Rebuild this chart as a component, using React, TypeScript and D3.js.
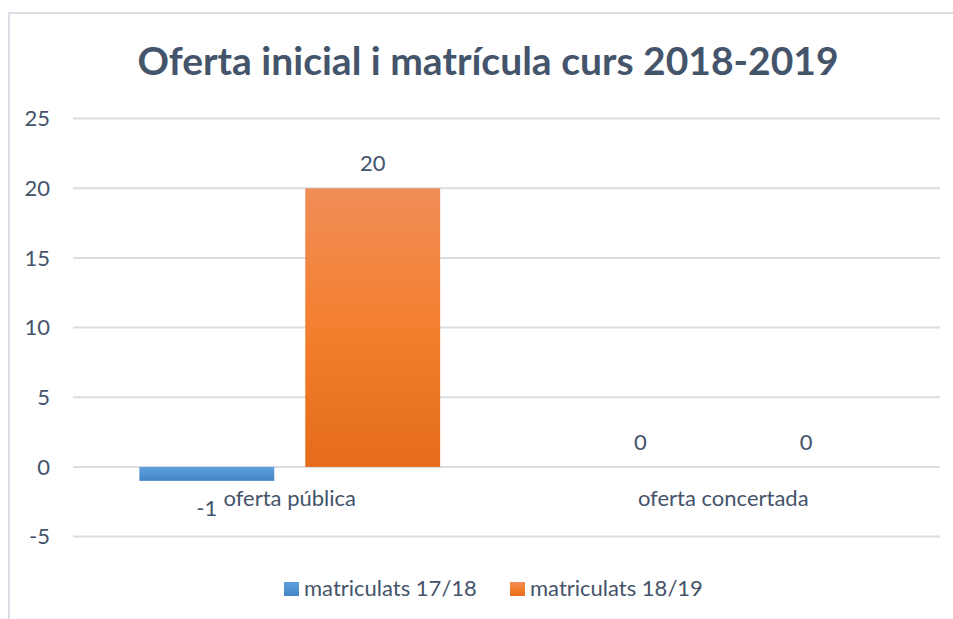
import * as d3 from 'd3';
import React, { useEffect, useRef } from 'react';

const categories = ['oferta pública', 'oferta concertada'];
const seriesNames = ['matriculats 17/18', 'matriculats 18/19'];
const values1718 = [-1, 0];
const values1819 = [20, 0];
const yTicks = [-5, 0, 5, 10, 15, 20, 25];

const W = 953;
const H = 619;
const FONT = "Lato, 'Open Sans', sans-serif";
const TEXT = '#44546A';
const GRID = '#D9DEE5';

const App = () => {
  const ref = useRef<SVGSVGElement | null>(null);

  useEffect(() => {
    if (!ref.current) return;
    const svg = d3.select(ref.current);
    svg.selectAll('*').remove();

    const defs = svg.append('defs');
    const blue = defs.append('linearGradient').attr('id', 'gBlue').attr('x1', 0).attr('y1', 0).attr('x2', 0).attr('y2', 1);
    blue.append('stop').attr('offset', '0%').attr('stop-color', '#5EA0DD');
    blue.append('stop').attr('offset', '100%').attr('stop-color', '#4585C7');
    const orange = defs.append('linearGradient').attr('id', 'gOrange').attr('x1', 0).attr('y1', 0).attr('x2', 0).attr('y2', 1);
    orange.append('stop').attr('offset', '0%').attr('stop-color', '#F08D57');
    orange.append('stop').attr('offset', '50%').attr('stop-color', '#F47F2F');
    orange.append('stop').attr('offset', '100%').attr('stop-color', '#E46C1A');
    const fills = ['url(#gBlue)', 'url(#gOrange)'];

    // chart frame (cut off at right / bottom like the screenshot)
    svg.append('rect').attr('x', 9).attr('y', 13).attr('width', W + 20).attr('height', H + 20)
      .attr('fill', '#fff').attr('stroke', GRID).attr('stroke-width', 2);

    svg.append('text').attr('x', 488).attr('y', 75).attr('text-anchor', 'middle')
      .attr('font-family', FONT).attr('font-weight', 700).attr('font-size', 39).attr('fill', TEXT)
      .text('Oferta inicial i matrícula curs 2018-2019');

    const y = d3.scaleLinear().domain([-5, 25]).range([536.6, 118.6]);
    const x0 = d3.scaleBand().domain(categories).range([73, 940]);
    const x1 = d3.scaleBand().domain(seriesNames).range([0, x0.bandwidth()]).paddingInner(0.187).paddingOuter(0.4);

    const g = svg.append('g');
    yTicks.forEach((t) => {
      g.append('line').attr('x1', 73).attr('x2', 940).attr('y1', y(t)).attr('y2', y(t))
        .attr('stroke', GRID).attr('stroke-width', 2);
      g.append('text').attr('x', 50).attr('y', y(t)).attr('dy', '0.35em').attr('text-anchor', 'end')
        .attr('font-family', FONT).attr('font-size', 22).attr('fill', TEXT).text(t);
    });

    const rows = categories.map((c, i) => ({ cat: c, vals: [values1718[i], values1819[i]] }));
    rows.forEach((r) => {
      r.vals.forEach((v, si) => {
        const bx = (x0(r.cat) ?? 0) + (x1(seriesNames[si]) ?? 0);
        const bw = x1.bandwidth();
        if (v !== 0) {
          g.append('rect').attr('x', bx).attr('width', bw)
            .attr('y', y(Math.max(0, v))).attr('height', Math.abs(y(v) - y(0)))
            .attr('fill', fills[si]);
        }
        g.append('text').attr('x', bx + bw / 2)
          .attr('y', v < 0 ? y(v) + 35 : y(v) - 17)
          .attr('text-anchor', 'middle').attr('font-family', FONT).attr('font-size', 22).attr('fill', TEXT)
          .text(v);
      });
      g.append('text').attr('x', (x0(r.cat) ?? 0) + x0.bandwidth() / 2).attr('y', 506)
        .attr('text-anchor', 'middle').attr('font-family', FONT).attr('font-size', 22).attr('fill', TEXT)
        .text(r.cat);
    });

    // legend
    const legendX = [284, 510];
    seriesNames.forEach((s, i) => {
      svg.append('rect').attr('x', legendX[i]).attr('y', 582).attr('width', 15).attr('height', 14).attr('fill', fills[i]);
      svg.append('text').attr('x', legendX[i] + 20).attr('y', 596)
        .attr('font-family', FONT).attr('font-size', 22).attr('fill', TEXT).text(s);
    });
  }, []);

  return <svg ref={ref} width={W} height={H} style={{ position: 'absolute', left: 0, top: 0 }} />;
};

export default App;
